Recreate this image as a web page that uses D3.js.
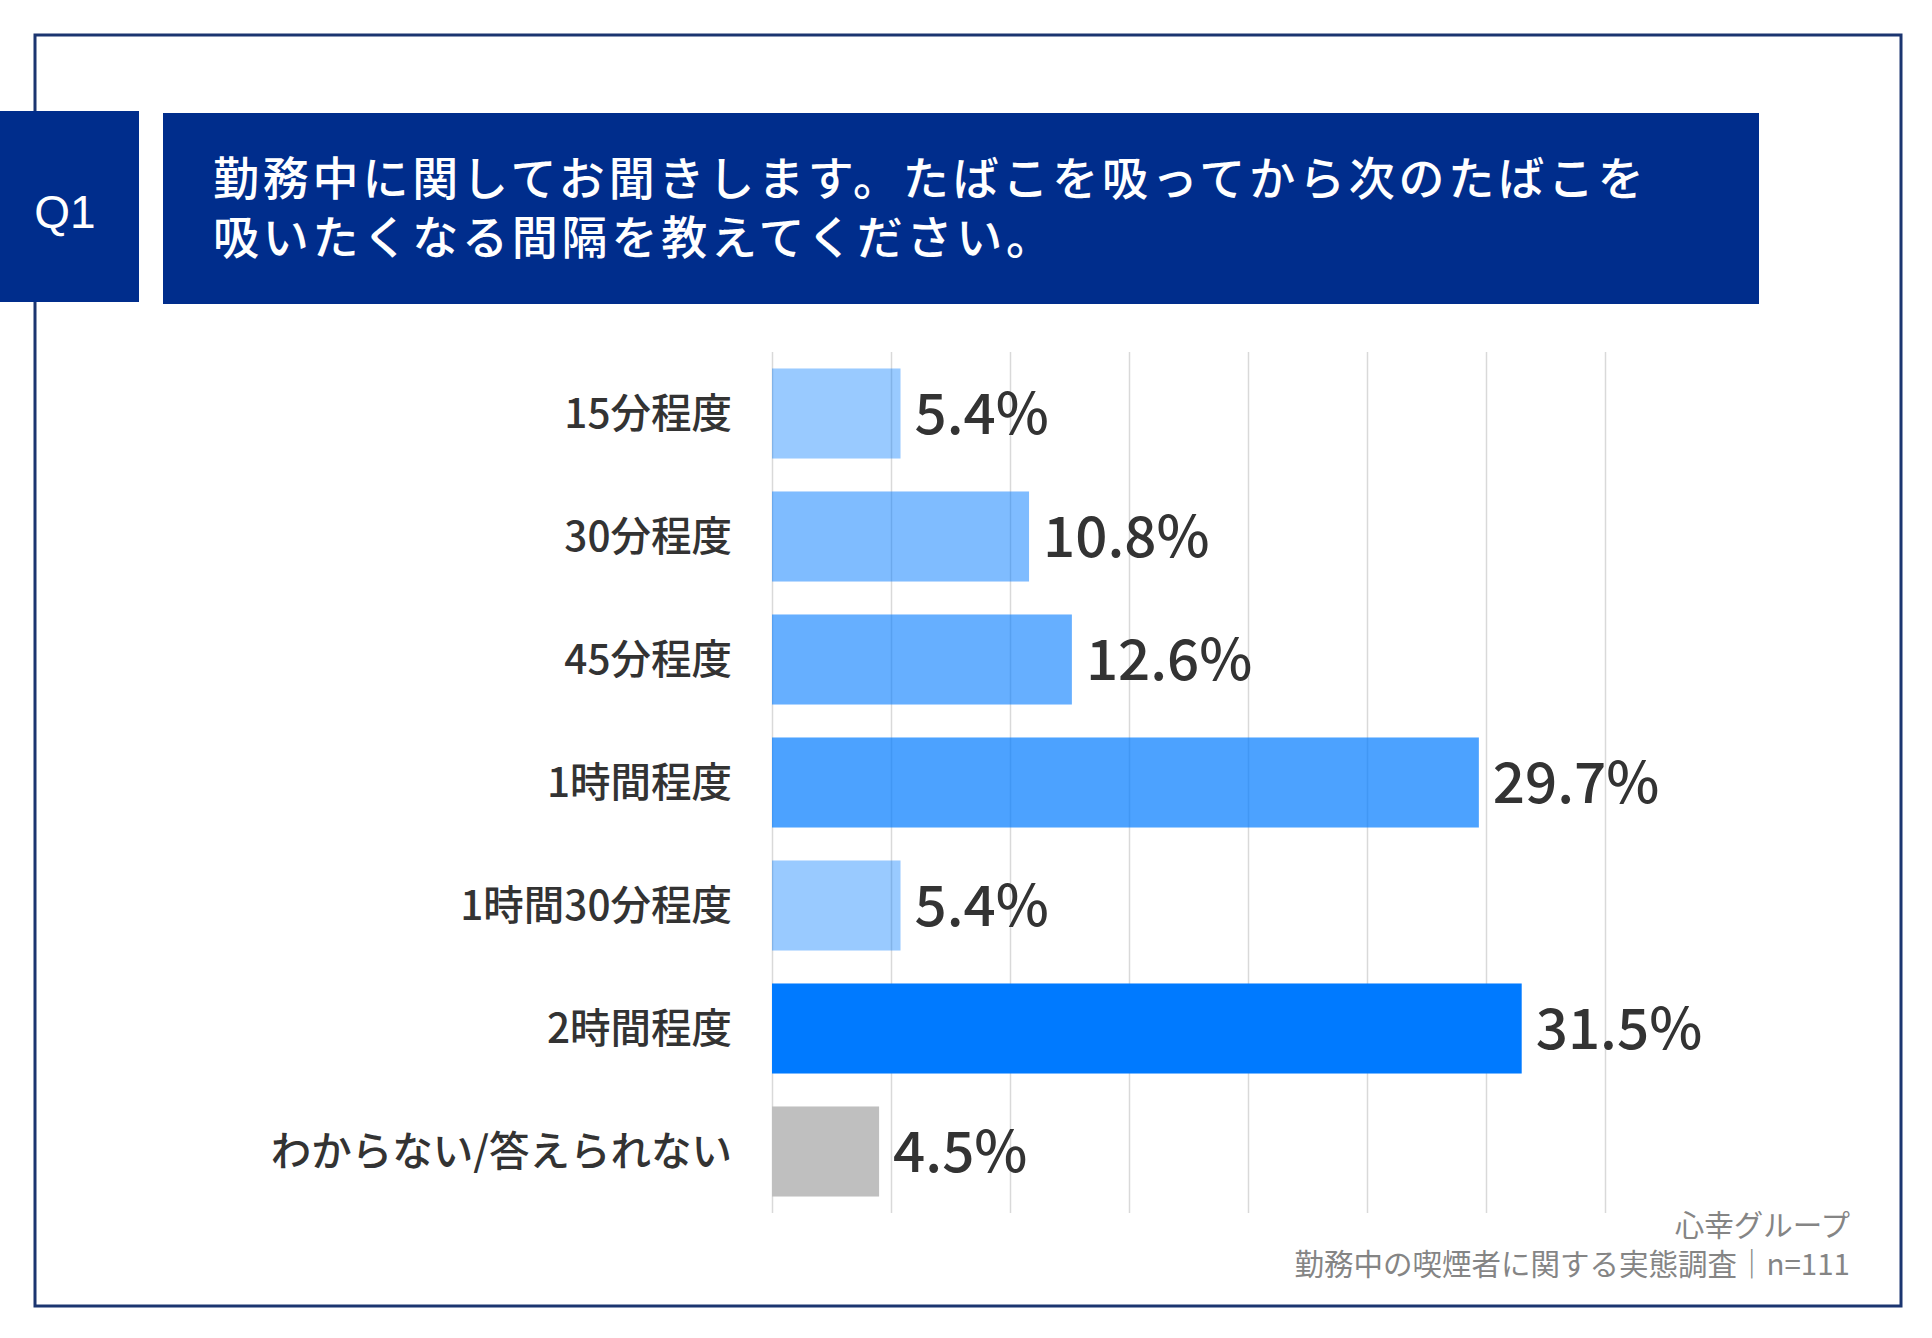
<!DOCTYPE html>
<html>
<head>
<meta charset="utf-8">
<script src="https://cdn.jsdelivr.net/npm/d3@7"></script>
<style>
    body { margin: 0; background: #fff; }
    svg { display: block; }
</style>
</head>
<body>
<svg id="chart"></svg>
<script>
var categories = ["15分程度", "30分程度", "45分程度", "1時間程度", "1時間30分程度", "2時間程度", "わからない/答えられない"];
var values = [5.4, 10.8, 12.6, 29.7, 5.4, 31.5, 4.5];
var gridTicks = [0, 5, 10, 15, 20, 25, 30, 35];
var titleLines = ["勤務中に関してお聞きします。たばこを吸ってから次のたばこを", "吸いたくなる間隔を教えてください。"];
var sourceLines = ["心幸グループ", "勤務中の喫煙者に関する実態調査｜n=111"];

// bar styles (kept apart from the data)
var barColors = ["#007aff", "#007aff", "#007aff", "#007aff", "#007aff", "#007aff", "#bfbfbf"];
var barOpacity = [0.4, 0.5, 0.6, 0.7, 0.4, 1, 1];

var width = 1932,
    height = 1338,
    navy = "#002d8c",
    jp = "'Noto Sans CJK JP', 'Noto Sans', sans-serif";

var svg = d3.select("#chart")
    .attr("width", width)
    .attr("height", height);

// outer frame
svg.append("rect")
    .attr("x", 35).attr("y", 35)
    .attr("width", 1866).attr("height", 1271)
    .attr("fill", "none")
    .attr("stroke", "#1b3570")
    .attr("stroke-width", 3);

// question header
svg.append("rect")
    .attr("x", 0).attr("y", 111)
    .attr("width", 139).attr("height", 191)
    .attr("fill", navy);
svg.append("text")
    .attr("x", 65).attr("y", 228)
    .attr("text-anchor", "middle")
    .attr("fill", "#fff")
    .attr("font-family", "'Liberation Sans', Arial, sans-serif")
    .attr("font-size", 46)
    .text("Q1");

svg.append("rect")
    .attr("x", 163).attr("y", 113)
    .attr("width", 1596).attr("height", 191)
    .attr("fill", navy);
svg.append("text")
    .attr("fill", "#fff")
    .attr("font-family", jp)
    .attr("font-weight", 500)
    .attr("font-size", 46)
    .attr("letter-spacing", 3.8)
    .selectAll("tspan")
    .data(titleLines)
    .enter().append("tspan")
    .attr("x", 213)
    .attr("y", function (d, i) { return 195 + i * 59; })
    .text(function (d) { return d; });

// scales
var xScale = d3.scaleLinear()
    .domain([0, 35])
    .range([772, 1605]);

var yScale = d3.scaleBand()
    .domain(categories)
    .range([352, 1213])
    .paddingInner(0.268)
    .paddingOuter(0.134);

// vertical grid
var grid = svg.append("g")
    .attr("transform", "translate(0," + 1213 + ")")
    .call(d3.axisBottom(xScale)
        .tickValues(gridTicks)
        .tickSize(-(1213 - 352))
        .tickFormat(""));
grid.select(".domain").remove();
grid.selectAll(".tick line")
    .attr("stroke", "#d9d9d9")
    .attr("stroke-width", 1.5);

// category labels
var yAxisG = svg.append("g")
    .attr("transform", "translate(" + 772 + ",0)")
    .call(d3.axisLeft(yScale).tickSize(0).tickPadding(40));
yAxisG.select(".domain").remove();
yAxisG.selectAll(".tick text")
    .attr("dy", null)
    .attr("y", 14)
    .attr("fill", "#333")
    .attr("font-family", jp)
    .attr("font-weight", 500)
    .attr("font-size", 40.5);

// bars
svg.selectAll(".bar")
    .data(values)
    .enter().append("rect")
    .attr("class", "bar")
    .attr("x", xScale(0))
    .attr("y", function (d, i) { return yScale(categories[i]); })
    .attr("width", function (d) { return xScale(d) - xScale(0); })
    .attr("height", yScale.bandwidth())
    .attr("fill", function (d, i) { return barColors[i]; })
    .attr("fill-opacity", function (d, i) { return barOpacity[i]; });

// value labels
svg.selectAll(".value")
    .data(values)
    .enter().append("text")
    .attr("class", "value")
    .attr("x", function (d) { return xScale(d) + 14; })
    .attr("y", function (d, i) { return yScale(categories[i]) + yScale.bandwidth() / 2 + 20; })
    .attr("fill", "#333")
    .attr("font-family", jp)
    .attr("font-weight", 500)
    .attr("font-size", 56.5)
    .text(function (d) { return d.toFixed(1) + "%"; });

// source note
svg.append("text")
    .attr("text-anchor", "end")
    .attr("fill", "#858585")
    .attr("font-family", jp)
    .attr("font-size", 29.5)
    .selectAll("tspan")
    .data(sourceLines)
    .enter().append("tspan")
    .attr("x", 1850)
    .attr("y", function (d, i) { return 1236 + i * 39; })
    .text(function (d) { return d; });
</script>
</body>
</html>
